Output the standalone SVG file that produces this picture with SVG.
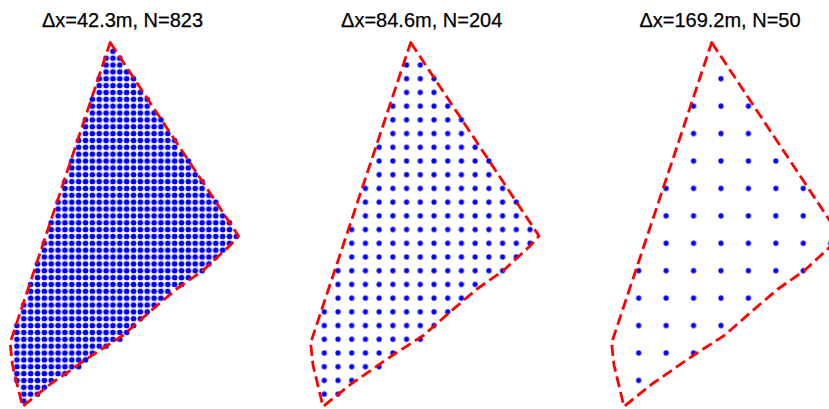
<svg xmlns="http://www.w3.org/2000/svg" width="829" height="409" viewBox="0 0 829 409">
<style>
.title{font-family:"Liberation Sans",Arial,sans-serif;font-size:20px;fill:#000;text-anchor:middle;stroke:#000;stroke-width:0.25}
.outline{fill:none;stroke:#ff0000;stroke-width:2.8;stroke-dasharray:11 5;stroke-linejoin:round}
</style>
<defs>
<pattern id="dots1" patternUnits="userSpaceOnUse" x="-0.5" y="-0.5" width="1" height="1"><circle cx="0.5" cy="0.5" r="0.41" fill="#0000ff"/></pattern>
<pattern id="dots2" patternUnits="userSpaceOnUse" x="-0.5" y="-0.5" width="1" height="1"><circle cx="0.5" cy="0.5" r="0.19" fill="#0000ff"/></pattern>
<pattern id="dots3" patternUnits="userSpaceOnUse" x="-0.5" y="-0.5" width="1" height="1"><circle cx="0.5" cy="0.5" r="0.095" fill="#0000ff"/></pattern>
<path id="outline" d="M410.7 42.5 L539 236 L530 246 L504 270 L477 289 L450 312 L424 335 L393 355 L351 384 L323 406.5 L313 365 L310.6 343 Z"/>
</defs>
<rect x="0" y="0" width="829" height="409" fill="#ffffff"/>

<g id="panel1">
<text class="title" x="122.5" y="27">Δx=42.3m, N=823</text>
<g transform="translate(-300.5,0)">
<g transform="translate(324.3,65) scale(6.857)">
<path fill="url(#dots1)" d="M12.5 -2.5h1v1h-1z M11.5 -1.5h3v1h-3z M11.5 -0.5h3v1h-3z M11.5 0.5h4v1h-4z M10.5 1.5h6v1h-6z M10.5 2.5h6v1h-6z M10.5 3.5h7v1h-7z M9.5 4.5h9v1h-9z M9.5 5.5h9v1h-9z M9.5 6.5h10v1h-10z M8.5 7.5h12v1h-12z M8.5 8.5h12v1h-12z M8.5 9.5h13v1h-13z M7.5 10.5h15v1h-15z M7.5 11.5h15v1h-15z M7.5 12.5h16v1h-16z M6.5 13.5h18v1h-18z M6.5 14.5h18v1h-18z M6.5 15.5h19v1h-19z M5.5 16.5h21v1h-21z M5.5 17.5h21v1h-21z M5.5 18.5h22v1h-22z M4.5 19.5h24v1h-24z M4.5 20.5h24v1h-24z M4.5 21.5h25v1h-25z M3.5 22.5h27v1h-27z M3.5 23.5h27v1h-27z M3.5 24.5h28v1h-28z M2.5 25.5h28v1h-28z M2.5 26.5h27v1h-27z M2.5 27.5h26v1h-26z M1.5 28.5h26v1h-26z M1.5 29.5h25v1h-25z M1.5 30.5h23v1h-23z M0.5 31.5h23v1h-23z M0.5 32.5h21v1h-21z M0.5 33.5h20v1h-20z M-0.5 34.5h20v1h-20z M-0.5 35.5h19v1h-19z M-0.5 36.5h18v1h-18z M-1.5 37.5h18v1h-18z M-1.5 38.5h17v1h-17z M-1.5 39.5h16v1h-16z M-1.5 40.5h14v1h-14z M-1.5 41.5h12v1h-12z M-1.5 42.5h11v1h-11z M-1.5 43.5h10v1h-10z M-1.5 44.5h8v1h-8z M-1.5 45.5h6v1h-6z M-0.5 46.5h4v1h-4z M-0.5 47.5h3v1h-3z M-0.5 48.5h1v1h-1z"/>
</g>
<use href="#outline" class="outline"/>
</g>
</g>

<g id="panel2">
<text class="title" x="421.7" y="27">Δx=84.6m, N=204</text>
<g transform="translate(324.3,65) scale(13.714)">
<path fill="url(#dots2)" d="M5.5 -0.5h2v1h-2z M5.5 0.5h3v1h-3z M5.5 1.5h3v1h-3z M4.5 2.5h5v1h-5z M4.5 3.5h6v1h-6z M4.5 4.5h6v1h-6z M3.5 5.5h8v1h-8z M3.5 6.5h9v1h-9z M3.5 7.5h9v1h-9z M2.5 8.5h11v1h-11z M2.5 9.5h12v1h-12z M2.5 10.5h12v1h-12z M1.5 11.5h14v1h-14z M1.5 12.5h14v1h-14z M1.5 13.5h13v1h-13z M0.5 14.5h13v1h-13z M0.5 15.5h11v1h-11z M0.5 16.5h10v1h-10z M-0.5 17.5h10v1h-10z M-0.5 18.5h9v1h-9z M-0.5 19.5h8v1h-8z M-0.5 20.5h6v1h-6z M-0.5 21.5h5v1h-5z M-0.5 22.5h3v1h-3z M-0.5 23.5h2v1h-2z"/>
</g>
<use href="#outline" class="outline"/>
</g>

<g id="panel3">
<text class="title" x="720" y="27">Δx=169.2m, N=50</text>
<g transform="translate(301,0)">
<g transform="translate(337.7,78.71) scale(27.428)">
<path fill="url(#dots3)" d="M2.5 -0.5h1v1h-1z M1.5 0.5h3v1h-3z M1.5 1.5h3v1h-3z M1.5 2.5h4v1h-4z M0.5 3.5h6v1h-6z M0.5 4.5h6v1h-6z M0.5 5.5h7v1h-7z M-0.5 6.5h7v1h-7z M-0.5 7.5h5v1h-5z M-0.5 8.5h4v1h-4z M-0.5 9.5h3v1h-3z M-0.5 10.5h1v1h-1z"/>
</g>
<use href="#outline" class="outline"/>
</g>
</g>
</svg>
